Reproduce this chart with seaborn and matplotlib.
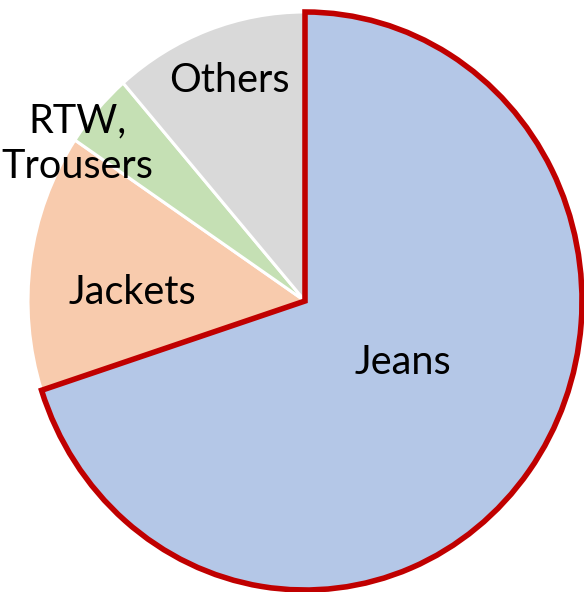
import matplotlib
matplotlib.use("Agg")
import matplotlib.pyplot as plt
import seaborn as sns

categories = ["Jeans", "Jackets", "RTW,\nTrousers", "Others"]
values = [70.0, 14.4, 4.2, 11.4]
colors = ["#B4C7E7", "#F8CBAD", "#C5E0B4", "#D9D9D9"]

sns.set_theme(style="white")
plt.rcParams["font.family"] = ["Lato", "DejaVu Sans"]

fig = plt.figure(figsize=(5.84, 5.92), dpi=100)
W, H = 584, 592
ax = fig.add_axes([28 / W, (H - 590) / H, 554 / W, 578 / H])

wedges, _ = ax.pie(values, colors=colors, startangle=90, counterclock=False,
                   wedgeprops=dict(edgecolor="white", linewidth=2.2))
for w in wedges:
    w.set_clip_on(False)
wedges[0].set_edgecolor("#C00000")
wedges[0].set_linewidth(4.0)
wedges[0].set_joinstyle("miter")
wedges[0].set_zorder(5)

ax.set_aspect("auto")
ax.set_xlim(-1, 1)
ax.set_ylim(-1, 1)
ax.axis("off")

def fig_text(label, x, y):
    fig.text(x / W, 1 - y / H, label, ha="center", va="center",
             fontsize=28.5, color="black", linespacing=1.3)

fig_text(categories[0], 403, 363)
fig_text(categories[1], 132, 292)
fig_text(categories[2], 77, 144)
fig_text(categories[3], 229, 80)

fig.savefig("out.png", dpi=100)
